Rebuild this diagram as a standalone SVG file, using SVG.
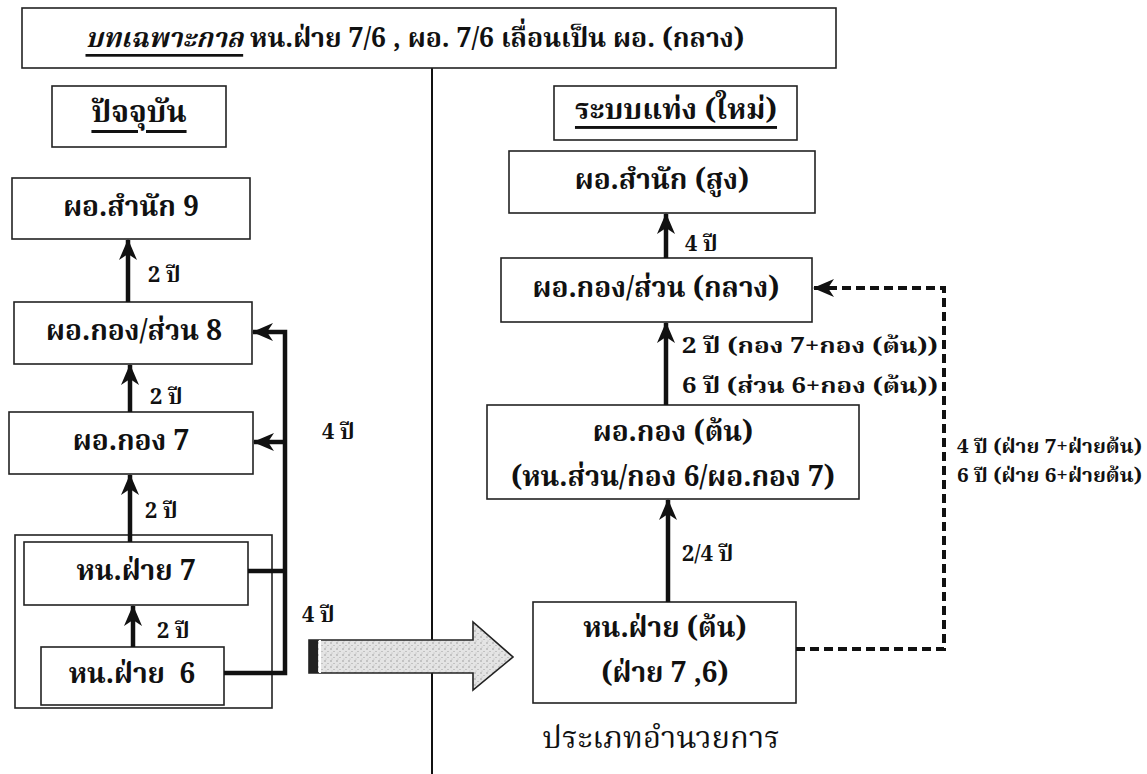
<svg xmlns="http://www.w3.org/2000/svg" width="1147" height="774" viewBox="0 0 1147 774">
<defs>
<style>
.box{fill:#fff;stroke:#222;stroke-width:1.6}
.t{font-family:"Noto Serif Thai","Noto Sans Thai","Liberation Serif","Noto Sans",serif;font-weight:bold;fill:#111;text-anchor:middle;dominant-baseline:central}
.tl{font-family:"Noto Serif Thai","Noto Sans Thai","Liberation Serif","Noto Sans",serif;font-weight:bold;fill:#111;dominant-baseline:central}
.n{font-size:28px}
.lbl{font-size:22px}
.sm{font-size:19px}
.arr{fill:none;stroke:#111;stroke-width:4.5}
.dash{fill:none;stroke:#111;stroke-width:4;stroke-dasharray:9 5}
</style>
<marker id="ah" markerUnits="userSpaceOnUse" markerWidth="22" markerHeight="22" viewBox="0 0 22 22" refX="20" refY="11" orient="auto">
<path d="M0,2 L21,11 L0,20 L6,11 Z" fill="#111"/>
</marker>
<pattern id="stip" width="6" height="6" patternUnits="userSpaceOnUse">
<rect width="6" height="6" fill="#e4e4e4"/>
<circle cx="1" cy="1" r="0.7" fill="#888"/>
<circle cx="4" cy="3.5" r="0.6" fill="#999"/>
<circle cx="2" cy="5" r="0.5" fill="#aaa"/>
</pattern>
</defs>
<rect width="1147" height="774" fill="#fff"/>

<!-- divider -->
<line x1="432" y1="68" x2="432" y2="774" stroke="#111" stroke-width="2"/>

<g id="header">
<rect class="box" x="22" y="8" width="814" height="60"/>
<text class="t" x="415" y="39" style="font-size:27px" textLength="659" lengthAdjust="spacingAndGlyphs"><tspan font-style="italic" text-decoration="underline">บทเฉพาะกาล</tspan> หน.ฝ่าย 7/6 , ผอ. 7/6 เลื่อนเป็น ผอ. (กลาง)</text>
</g>

<g id="current-title">
<rect class="box" x="52" y="86" width="174" height="61"/>
<text class="t" x="139" y="114" style="font-size:30px" text-decoration="underline">ปัจจุบัน</text>
</g>
<g id="old-director9">
<rect class="box" x="12" y="178" width="238" height="61"/>
<text class="t n" x="131" y="208">ผอ.สำนัก 9</text>
</g>
<g id="old-director8">
<rect class="box" x="14" y="302" width="238" height="62"/>
<text class="t n" x="134" y="332">ผอ.กอง/ส่วน 8</text>
</g>
<g id="old-director7">
<rect class="box" x="9" y="412" width="244" height="62"/>
<text class="t n" x="131" y="442">ผอ.กอง 7</text>
</g>
<g id="old-group">
<rect class="box" x="15" y="535" width="257" height="173"/>
</g>
<g id="old-head7">
<rect class="box" x="24" y="542" width="224" height="63"/>
<text class="t n" x="136" y="572">หน.ฝ่าย 7</text>
</g>
<g id="old-head6">
<rect class="box" x="41" y="647" width="183" height="58"/>
<text class="t n" x="132" y="675" xml:space="preserve">หน.ฝ่าย  6</text>
</g>

<g id="new-title">
<rect class="box" x="554" y="86" width="243" height="54"/>
<text class="t" x="676" y="111" style="font-size:29px" text-decoration="underline">ระบบแท่ง (ใหม่)</text>
</g>
<g id="new-high">
<rect class="box" x="509" y="151" width="306" height="62"/>
<text class="t n" x="662" y="181">ผอ.สำนัก (สูง)</text>
</g>
<g id="new-mid">
<rect class="box" x="501" y="258" width="311" height="64"/>
<text class="t n" x="656" y="289">ผอ.กอง/ส่วน (กลาง)</text>
</g>
<g id="new-low">
<rect class="box" x="487" y="405" width="372" height="94"/>
<text class="t n" x="673" y="433">ผอ.กอง (ต้น)</text>
<text class="t n" x="673" y="478">(หน.ส่วน/กอง 6/ผอ.กอง 7)</text>
</g>
<g id="new-head">
<rect class="box" x="533" y="602" width="263" height="101"/>
<text class="t n" x="665" y="629">หน.ฝ่าย (ต้น)</text>
<text class="t n" x="665" y="674">(ฝ่าย 7 ,6)</text>
</g>
<g id="footer">
<text class="t" x="661" y="740" style="font-size:31px;font-weight:normal">ประเภทอำนวยการ</text>
</g>

<g id="connectors">
<line class="arr" x1="128" y1="302" x2="128" y2="240" marker-end="url(#ah)"/>
<line class="arr" x1="130" y1="412" x2="130" y2="365" marker-end="url(#ah)"/>
<line class="arr" x1="130" y1="542" x2="130" y2="475" marker-end="url(#ah)"/>
<line class="arr" x1="133" y1="647" x2="133" y2="606" marker-end="url(#ah)"/>
<polyline class="arr" points="224,673 285,673 285,332 253,332" marker-end="url(#ah)"/>
<line class="arr" x1="248" y1="571" x2="285" y2="571"/>
<line class="arr" x1="285" y1="442" x2="254" y2="442" marker-end="url(#ah)"/>
<line class="arr" x1="666" y1="258" x2="666" y2="214" marker-end="url(#ah)"/>
<line class="arr" x1="666" y1="405" x2="666" y2="323" marker-end="url(#ah)"/>
<line class="arr" x1="668" y1="602" x2="668" y2="500" marker-end="url(#ah)"/>
<polyline class="dash" points="796,649 944,649 944,288 814,288" marker-end="url(#ah)"/>

<g id="big-arrow">
<path d="M309,640 L473,640 L473,622 L513,657 L473,690 L473,673 L309,673 Z" fill="url(#stip)" stroke="#222" stroke-width="1.6"/>
<rect x="309" y="640" width="9" height="33" fill="#222"/>
<line x1="320" y1="640" x2="320" y2="673" stroke="#fff" stroke-width="2"/>
</g>

<text class="tl lbl" x="148" y="276">2 ปี</text>
<text class="tl lbl" x="150" y="398">2 ปี</text>
<text class="tl lbl" x="145" y="512">2 ปี</text>
<text class="tl lbl" x="157" y="632">2 ปี</text>
<text class="tl lbl" x="322" y="433">4 ปี</text>
<text class="tl lbl" x="302" y="616">4 ปี</text>
<text class="tl lbl" x="685" y="245">4 ปี</text>
<text class="tl lbl" x="682" y="347" textLength="256" lengthAdjust="spacingAndGlyphs">2 ปี (กอง 7+กอง (ต้น))</text>
<text class="tl lbl" x="682" y="387" textLength="256" lengthAdjust="spacingAndGlyphs">6 ปี (ส่วน 6+กอง (ต้น))</text>
<text class="tl lbl" x="682" y="555">2/4 ปี</text>
<text class="tl sm" x="957" y="448" textLength="185" lengthAdjust="spacingAndGlyphs">4 ปี (ฝ่าย 7+ฝ่ายต้น)</text>
<text class="tl sm" x="957" y="477" textLength="185" lengthAdjust="spacingAndGlyphs">6 ปี (ฝ่าย 6+ฝ่ายต้น)</text>
</g>
</svg>
